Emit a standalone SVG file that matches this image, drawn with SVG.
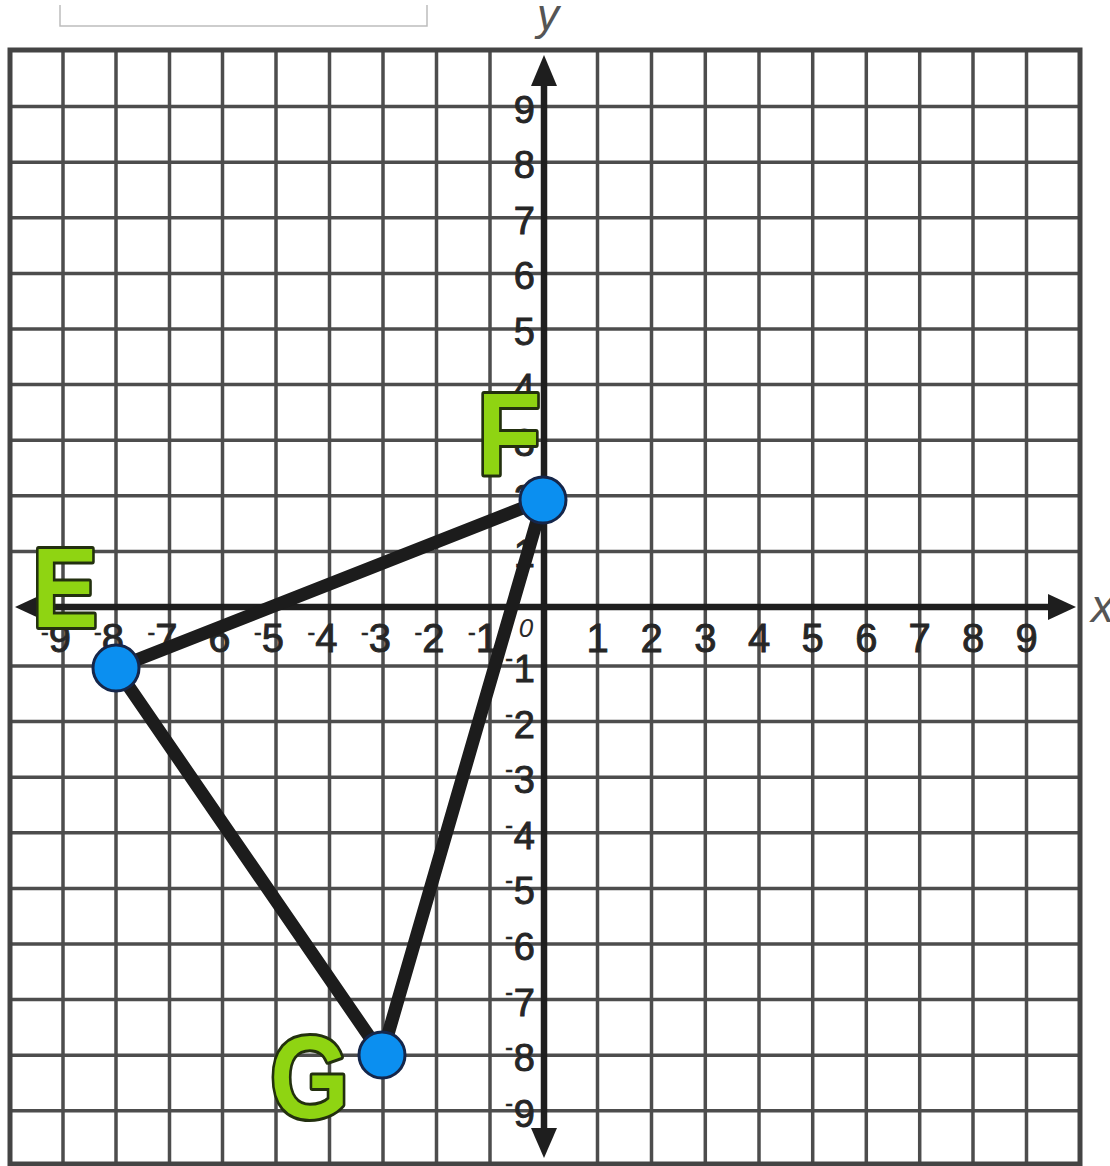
<svg xmlns="http://www.w3.org/2000/svg" width="1110" height="1166" viewBox="0 0 1110 1166">
<style>
.grid{fill:none;stroke:#4d4d4d;stroke-width:3.5}
.border{fill:none;stroke:#444;stroke-width:5}
.axis{stroke:#1e1e1e;stroke-width:6.5;fill:none}
.ah{fill:#1e1e1e}
.tx{font-family:"Liberation Sans",Arial,sans-serif;font-size:40px;fill:#262626;stroke:#262626;stroke-width:0.9;text-anchor:middle}
.txn{font-family:"Liberation Sans",Arial,sans-serif;font-size:40px;fill:#262626;stroke:#262626;stroke-width:0.9;text-anchor:end}
.ty{font-family:"Liberation Sans",Arial,sans-serif;font-size:38px;fill:#262626;stroke:#262626;stroke-width:0.9;text-anchor:end}
.m{font-size:23px;stroke-width:0.6}
.edge{stroke:#1c1c1c;stroke-width:13;stroke-linecap:round}
.dot{fill:#0b8ff0;stroke:#15264a;stroke-width:3}
.lbl{font-family:"Liberation Sans",Arial,sans-serif;font-weight:bold;fill:#8fd412;stroke:#23300f;stroke-width:6;paint-order:stroke;stroke-linejoin:round}
.al{font-family:"Liberation Sans",Arial,sans-serif;font-style:italic;fill:#555}
.zero{font-family:"Liberation Sans",Arial,sans-serif;font-style:italic;fill:#2a2a2a;font-size:26px;text-anchor:middle}
</style>
<rect x="0" y="0" width="1110" height="1166" fill="#fff"/>
<path d="M60,5 V26 H427 V5" fill="none" stroke="#bdbdbd" stroke-width="1.5"/>
<g id="grid">
<path class="grid" d="M63,50V1164M116,50V1164M169.5,50V1164M222.5,50V1164M276,50V1164M329.5,50V1164M383,50V1164M436.5,50V1164M490,50V1164M597.5,50V1164M651.5,50V1164M705.3,50V1164M759,50V1164M812.7,50V1164M866.3,50V1164M919.7,50V1164M973,50V1164M1026.5,50V1164
M10,106.6H1080M10,162.2H1080M10,217.8H1080M10,273.4H1080M10,329H1080M10,384.6H1080M10,440.2H1080M10,495.8H1080M10,551.4H1080M10,666H1080M10,721.6H1080M10,777.2H1080M10,832.8H1080M10,888.4H1080M10,944H1080M10,999.6H1080M10,1055.2H1080M10,1110.8H1080"/>
<rect class="border" x="10" y="50" width="1070" height="1114"/>
</g>
<g id="axes">
<line class="axis" x1="544" y1="80" x2="544" y2="1134"/>
<line class="axis" x1="38" y1="607" x2="1052" y2="607"/>
<polygon class="ah" points="544,55 531,86 557,86"/>
<polygon class="ah" points="544,1158 531,1128 557,1128"/>
<polygon class="ah" points="1076,607 1048,594 1048,620"/>
<polygon class="ah" points="15,607 43,594 43,620"/>
<text class="al" x="537" y="30" font-size="44">y</text>
<text class="al" x="1091" y="622" font-size="46">x</text>
</g>
<g id="xticks">
<text class="tx" x="597.5" y="652">1</text>
<text class="tx" x="651.5" y="652">2</text>
<text class="tx" x="705.3" y="652">3</text>
<text class="tx" x="759" y="652">4</text>
<text class="tx" x="812.7" y="652">5</text>
<text class="tx" x="866.3" y="652">6</text>
<text class="tx" x="919.7" y="652">7</text>
<text class="tx" x="973" y="652">8</text>
<text class="tx" x="1026.5" y="652">9</text>
<text class="txn" x="498" y="652"><tspan class="m" dy="-12">-</tspan><tspan dy="12">1</tspan></text>
<text class="txn" x="444.5" y="652"><tspan class="m" dy="-12">-</tspan><tspan dy="12">2</tspan></text>
<text class="txn" x="391" y="652"><tspan class="m" dy="-12">-</tspan><tspan dy="12">3</tspan></text>
<text class="txn" x="337.5" y="652"><tspan class="m" dy="-12">-</tspan><tspan dy="12">4</tspan></text>
<text class="txn" x="284" y="652"><tspan class="m" dy="-12">-</tspan><tspan dy="12">5</tspan></text>
<text class="txn" x="230.5" y="652"><tspan class="m" dy="-12">-</tspan><tspan dy="12">6</tspan></text>
<text class="txn" x="177.5" y="652"><tspan class="m" dy="-12">-</tspan><tspan dy="12">7</tspan></text>
<text class="txn" x="124" y="652"><tspan class="m" dy="-12">-</tspan><tspan dy="12">8</tspan></text>
<text class="txn" x="71" y="652"><tspan class="m" dy="-12">-</tspan><tspan dy="12">9</tspan></text>
<text class="zero" x="526" y="637">0</text>
</g>
<g id="yticks">
<text class="ty" x="535" y="123">9</text>
<text class="ty" x="535" y="178">8</text>
<text class="ty" x="535" y="234">7</text>
<text class="ty" x="535" y="289">6</text>
<text class="ty" x="535" y="345">5</text>
<text class="ty" x="535" y="401">4</text>
<text class="ty" x="535" y="456">3</text>
<text class="ty" x="535" y="512">2</text>
<text class="ty" x="535" y="567">1</text>
<text class="ty" x="535" y="682"><tspan class="m" dy="-16">-</tspan><tspan dx="1" dy="16">1</tspan></text>
<text class="ty" x="535" y="738"><tspan class="m" dy="-16">-</tspan><tspan dx="1" dy="16">2</tspan></text>
<text class="ty" x="535" y="793"><tspan class="m" dy="-16">-</tspan><tspan dx="1" dy="16">3</tspan></text>
<text class="ty" x="535" y="849"><tspan class="m" dy="-16">-</tspan><tspan dx="1" dy="16">4</tspan></text>
<text class="ty" x="535" y="904"><tspan class="m" dy="-16">-</tspan><tspan dx="1" dy="16">5</tspan></text>
<text class="ty" x="535" y="960"><tspan class="m" dy="-16">-</tspan><tspan dx="1" dy="16">6</tspan></text>
<text class="ty" x="535" y="1016"><tspan class="m" dy="-16">-</tspan><tspan dx="1" dy="16">7</tspan></text>
<text class="ty" x="535" y="1071"><tspan class="m" dy="-16">-</tspan><tspan dx="1" dy="16">8</tspan></text>
<text class="ty" x="535" y="1127"><tspan class="m" dy="-16">-</tspan><tspan dx="1" dy="16">9</tspan></text>
</g>
<g id="connectors">
<line class="edge" x1="116" y1="668" x2="543" y2="500"/>
<line class="edge" x1="543" y1="500" x2="382" y2="1055"/>
<line class="edge" x1="382" y1="1055" x2="116" y2="668"/>
</g>
<g id="E">
<circle class="dot" cx="116" cy="668" r="23"/>
<text class="lbl" x="32" y="627" font-size="114" textLength="66" lengthAdjust="spacingAndGlyphs">E</text>
</g>
<g id="F">
<circle class="dot" cx="543" cy="500" r="23"/>
<text class="lbl" x="477" y="475" font-size="117" textLength="64" lengthAdjust="spacingAndGlyphs">F</text>
</g>
<g id="G">
<circle class="dot" cx="382" cy="1055" r="23"/>
<text class="lbl" x="270" y="1118" font-size="116" textLength="79" lengthAdjust="spacingAndGlyphs">G</text>
</g>
</svg>
